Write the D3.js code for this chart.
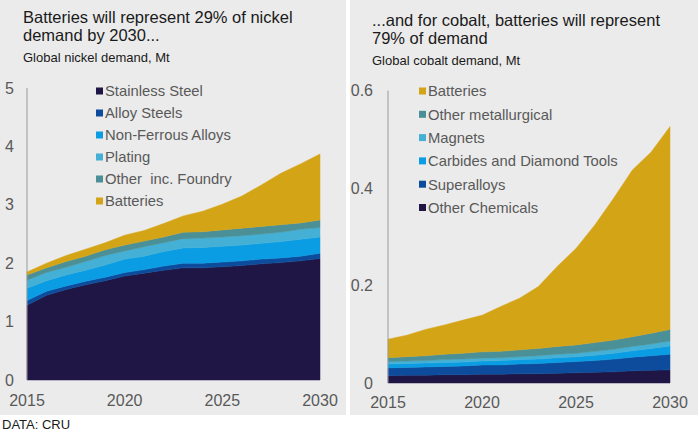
<!DOCTYPE html>
<html lang="en">
<head>
    <meta charset="UTF-8">
    <title>Nickel and cobalt demand</title>
    <script src="https://d3js.org/d3.v7.min.js"></script>
    <style>
        body { margin: 0; background: #fff; }
        text { font-family: 'Liberation Sans', Arial, sans-serif; }
        .title { font-size: 16.5px; fill: #1a1a1a; }
        .sub { font-size: 13px; fill: #1a1a1a; }
        .tick { font-size: 16px; fill: #595959; }
        .leg { font-size: 14.8px; fill: #595959; white-space: pre; }
    </style>
</head>
<body>
<script>
    const width = 698;
    const height = 432;

    const years = d3.range(2015, 2031);

    // nickel, Mt
    const nickelSeries = ["Stainless Steel", "Alloy Steels", "Non-Ferrous Alloys", "Plating", "Other  inc. Foundry", "Batteries"];
    const stainless  = [1.28, 1.45, 1.55, 1.63, 1.70, 1.78, 1.83, 1.88, 1.92, 1.92, 1.94, 1.96, 1.99, 2.01, 2.04, 2.08];
    const alloySteel = [0.08, 0.07, 0.06, 0.06, 0.06, 0.06, 0.06, 0.07, 0.08, 0.08, 0.08, 0.08, 0.08, 0.08, 0.08, 0.09];
    const nonFerrous = [0.21, 0.18, 0.19, 0.19, 0.21, 0.23, 0.23, 0.25, 0.26, 0.27, 0.27, 0.27, 0.27, 0.28, 0.29, 0.28];
    const plating    = [0.14, 0.14, 0.13, 0.15, 0.16, 0.14, 0.16, 0.15, 0.16, 0.16, 0.16, 0.16, 0.16, 0.16, 0.17, 0.16];
    const otherNi    = [0.09, 0.08, 0.10, 0.09, 0.10, 0.10, 0.10, 0.10, 0.11, 0.11, 0.12, 0.13, 0.13, 0.13, 0.11, 0.13];
    const batteryNi  = [0.05, 0.08, 0.10, 0.12, 0.12, 0.17, 0.18, 0.23, 0.28, 0.35, 0.44, 0.55, 0.71, 0.88, 1.01, 1.13];
    const nickelColors = ["#1f1645", "#0d4c9c", "#0a9de3", "#45b0d5", "#4b9097", "#d4a417"];
    const nickelTicks = [0, 1, 2, 3, 4, 5];

    // cobalt, Mt
    const cobaltSeries = ["Other Chemicals", "Superalloys", "Carbides and Diamond Tools", "Magnets", "Other metallurgical", "Batteries"];
    const otherChem  = [0.015, 0.016, 0.016, 0.017, 0.017, 0.018, 0.018, 0.019, 0.019, 0.020, 0.021, 0.022, 0.023, 0.025, 0.026, 0.027];
    const superalloy = [0.016, 0.016, 0.017, 0.017, 0.018, 0.019, 0.019, 0.020, 0.021, 0.022, 0.023, 0.024, 0.026, 0.028, 0.030, 0.032];
    const carbides   = [0.008, 0.008, 0.008, 0.008, 0.008, 0.008, 0.009, 0.009, 0.009, 0.010, 0.010, 0.011, 0.012, 0.013, 0.015, 0.017];
    const magnets    = [0.005, 0.005, 0.005, 0.006, 0.006, 0.006, 0.006, 0.006, 0.007, 0.007, 0.007, 0.008, 0.008, 0.009, 0.009, 0.010];
    const otherMet   = [0.008, 0.009, 0.010, 0.011, 0.012, 0.013, 0.013, 0.014, 0.015, 0.016, 0.017, 0.018, 0.019, 0.020, 0.022, 0.024];
    const batteryCo  = [0.038, 0.044, 0.054, 0.060, 0.068, 0.075, 0.092, 0.106, 0.127, 0.164, 0.198, 0.241, 0.291, 0.342, 0.372, 0.416];
    const cobaltColors = ["#1f1645", "#0d4c9c", "#0a9de3", "#45b0d5", "#4b9097", "#d4a417"];
    const cobaltTicks = [0, 0.2, 0.4, 0.6];

    const xTicks = [2015, 2020, 2025, 2030];

    const svg = d3.select("body").append("svg").attr("width", width).attr("height", height);

    // panel backgrounds
    svg.append("rect").attr("x", 0).attr("y", 0).attr("width", 346).attr("height", 415).style("fill", "#ebebeb");
    svg.append("rect").attr("x", 350).attr("y", 0).attr("width", 348).attr("height", 415).style("fill", "#ebebeb");

    svg.append("text").attr("x", 2).attr("y", 429).attr("class", "sub").text("DATA: CRU");

    function drawPanel(opt) {
        const g = svg.append("g");
        const rows = years.map((yr, i) => {
            const r = {year: yr};
            opt.keys.forEach((k, j) => r[k] = opt.values[j][i]);
            return r;
        });
        const stack = d3.stack().keys(opt.keys);
        const layers = stack(rows);

        const x = d3.scaleLinear().domain([2015, 2030]).range([opt.x0, opt.x1]);
        const y = d3.scaleLinear().domain(opt.yDomain).range([opt.y0, opt.y1]);

        const area = d3.area()
            .x(d => x(d.data.year))
            .y0(d => y(d[0]))
            .y1(d => y(d[1]));

        g.selectAll("path.layer")
            .data(layers)
            .enter()
            .append("path")
            .attr("class", "layer")
            .attr("d", area)
            .style("fill", (d, i) => opt.colors[i])
            .style("stroke", (d, i) => opt.colors[i])
            .style("stroke-width", 0.5);

        // y axis line
        g.append("line")
            .attr("x1", opt.x0).attr("x2", opt.x0)
            .attr("y1", y(opt.yDomain[1])).attr("y2", opt.y0)
            .style("stroke", "#9a9a9a").style("stroke-width", 1);

        g.selectAll("text.ytick")
            .data(opt.yTicks)
            .enter()
            .append("text")
            .attr("class", "tick")
            .attr("x", opt.yLabelX)
            .attr("y", d => y(d))
            .attr("dy", "0.35em")
            .attr("text-anchor", "end")
            .text(d => d);

        g.selectAll("text.xtick")
            .data(xTicks)
            .enter()
            .append("text")
            .attr("class", "tick")
            .attr("x", d => x(d))
            .attr("y", opt.xLabelY)
            .attr("text-anchor", "middle")
            .text(d => d);

        // titles
        opt.title.forEach((t, i) => {
            g.append("text").attr("class", "title")
                .attr("x", opt.titleX).attr("y", opt.titleY + i * 17.5).text(t);
        });
        g.append("text").attr("class", "sub")
            .attr("x", opt.titleX).attr("y", opt.titleY + 39).text(opt.subtitle);

        // legend
        const leg = g.selectAll("g.leg")
            .data(opt.legend)
            .enter()
            .append("g")
            .attr("transform", (d, i) => `translate(${opt.legX},${91 + i * opt.legStep})`);
        leg.append("rect")
            .attr("x", 0).attr("y", -3.5)
            .attr("width", 7).attr("height", 7)
            .style("fill", d => opt.colors[opt.keys.indexOf(d)]);
        leg.append("text")
            .attr("class", "leg")
            .attr("x", 9)
            .attr("y", 0)
            .attr("dy", "0.36em")
            .text(d => d);
    }

    drawPanel({
        keys: nickelSeries,
        values: [stainless, alloySteel, nonFerrous, plating, otherNi, batteryNi],
        colors: nickelColors,
        x0: 27, x1: 320, y0: 380, y1: 88,
        yDomain: [0, 5], yTicks: nickelTicks,
        yLabelX: 14, xLabelY: 406,
        title: ["Batteries will represent 29% of nickel", "demand by 2030..."],
        subtitle: "Global nickel demand, Mt",
        titleX: 23, titleY: 23,
        legend: nickelSeries,
        legX: 96, legStep: 22
    });

    drawPanel({
        keys: cobaltSeries,
        values: [otherChem, superalloy, carbides, magnets, otherMet, batteryCo],
        colors: cobaltColors,
        x0: 388, x1: 670, y0: 383, y1: 90.5,
        yDomain: [0, 0.6], yTicks: cobaltTicks,
        yLabelX: 373, xLabelY: 408,
        title: ["...and for cobalt, batteries will represent", "79% of demand"],
        subtitle: "Global cobalt demand, Mt",
        titleX: 372, titleY: 26,
        legend: cobaltSeries.slice().reverse(),
        legX: 419, legStep: 23.3
    });
</script>
</body>
</html>
